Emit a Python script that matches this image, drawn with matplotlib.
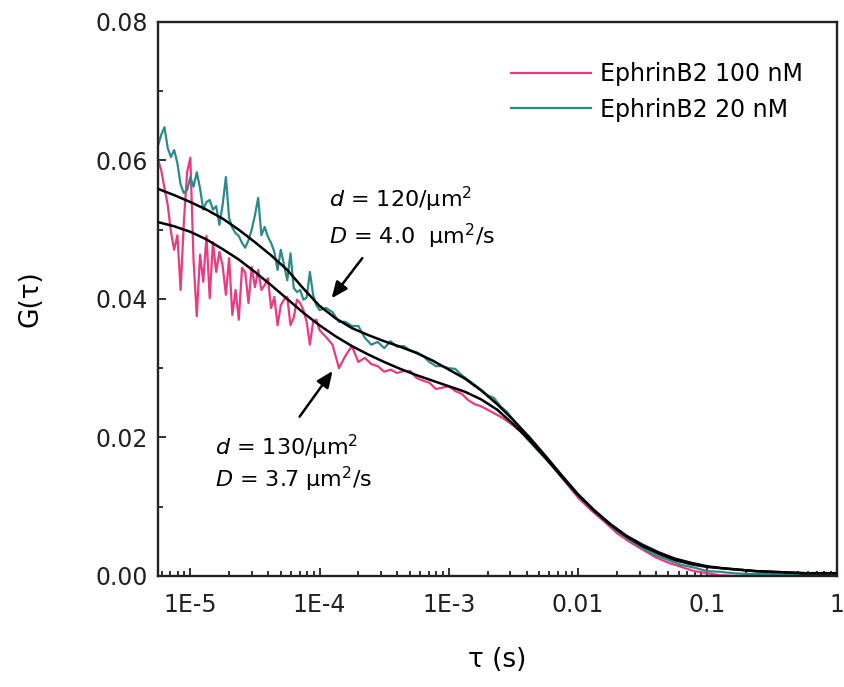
"""FCS autocorrelation curves for EphrinB2 at two concentrations, with fits."""

import numpy as np
import matplotlib
matplotlib.use("Agg")
import matplotlib.pyplot as plt
from matplotlib.ticker import (FixedLocator, FixedFormatter, LogLocator, NullFormatter,
                               MultipleLocator, FormatStrFormatter)

plt.rcParams["font.family"] = ["DejaVu Sans"]
plt.rcParams["mathtext.fontset"] = "dejavusans"

# ── Data (lag times given as log10 of tau in s) ──────────────────────────────
LOG_TAU = [
    -5.25, -5.225, -5.2, -5.175, -5.15, -5.125, -5.1, -5.075, -5.05, -5.025,
    -5.0, -4.975, -4.95, -4.925, -4.9, -4.875, -4.85, -4.825, -4.8, -4.775,
    -4.75, -4.725, -4.7, -4.675, -4.65, -4.625, -4.6, -4.575, -4.55, -4.525,
    -4.5, -4.475, -4.45, -4.425, -4.4, -4.375, -4.35, -4.325, -4.3, -4.275,
    -4.25, -4.225, -4.2, -4.175, -4.15, -4.125, -4.1, -4.075, -4.05, -4.025,
    -4.0,
    -3.95, -3.9, -3.85, -3.8, -3.75, -3.7, -3.65, -3.6, -3.55, -3.5,
    -3.45, -3.4, -3.35, -3.3, -3.25, -3.2, -3.15, -3.1, -3.05, -3.0,
    -2.95, -2.9, -2.85, -2.8, -2.75, -2.7, -2.65, -2.6, -2.55, -2.5,
    -2.4, -2.3, -2.2, -2.1, -2.0, -1.9, -1.8, -1.7, -1.6, -1.5,
    -1.4, -1.3, -1.2, -1.1, -1.0, -0.9, -0.8, -0.7, -0.6, -0.5,
    -0.4, -0.3, -0.2, -0.1, 0.0,
]

G_20NM = [
    0.0622, 0.0637, 0.0648, 0.0618, 0.0605, 0.0615, 0.0596, 0.0565, 0.0553, 0.0557,
    0.0576, 0.0562, 0.0583, 0.0560, 0.0529, 0.0540, 0.0543, 0.0529, 0.0534, 0.0507,
    0.0536, 0.0576, 0.0517, 0.0503, 0.0495, 0.0491, 0.0481, 0.0474, 0.0485, 0.0500,
    0.0521, 0.0546, 0.0492, 0.0504, 0.0490, 0.0481, 0.0468, 0.0442, 0.0471, 0.0449,
    0.0427, 0.0466, 0.0416, 0.0410, 0.0413, 0.0399, 0.0402, 0.0439, 0.0406, 0.0391,
    0.0384,
    0.0387, 0.0381, 0.0367, 0.0367, 0.0361, 0.0361, 0.0344, 0.0334, 0.0338, 0.0329,
    0.0339, 0.0331, 0.0332, 0.0326, 0.0323, 0.0318, 0.0309, 0.0303, 0.0303, 0.0300,
    0.0299, 0.0290, 0.0283, 0.0276, 0.0269, 0.0261, 0.0257, 0.0245, 0.0237, 0.0225,
    0.0199, 0.0179, 0.0159, 0.0137, 0.0116, 0.0098, 0.0081, 0.0065, 0.0052, 0.0040,
    0.0030, 0.0023, 0.0016, 0.0012, 0.0007, 0.0006, 0.0004, 0.0003, 0.0003, 0.0003,
    0.0001, 0.0003, 0.0001, 0.0003, 0.0001,
]

G_100NM = [
    0.0601, 0.0586, 0.0560, 0.0536, 0.0497, 0.0471, 0.0492, 0.0413, 0.0511, 0.0583,
    0.0604, 0.0456, 0.0375, 0.0464, 0.0425, 0.0491, 0.0401, 0.0482, 0.0439, 0.0468,
    0.0448, 0.0406, 0.0459, 0.0377, 0.0413, 0.0370, 0.0445, 0.0438, 0.0394, 0.0446,
    0.0417, 0.0442, 0.0413, 0.0420, 0.0430, 0.0387, 0.0403, 0.0362, 0.0391, 0.0399,
    0.0403, 0.0362, 0.0373, 0.0399, 0.0394, 0.0384, 0.0367, 0.0334, 0.0367, 0.0370,
    0.0355,
    0.0345, 0.0334, 0.0300, 0.0318, 0.0332, 0.0309, 0.0315, 0.0306, 0.0303, 0.0295,
    0.0298, 0.0293, 0.0296, 0.0296, 0.0286, 0.0282, 0.0279, 0.0270, 0.0272, 0.0274,
    0.0267, 0.0263, 0.0254, 0.0248, 0.0245, 0.0240, 0.0235, 0.0230, 0.0224, 0.0217,
    0.0202, 0.0182, 0.0159, 0.0136, 0.0113, 0.0095, 0.0079, 0.0062, 0.0049, 0.0038,
    0.0027, 0.0019, 0.0013, 0.0007, 0.0004, 0.0001, 0.0000, 0.0000, 0.0001, 0.0001,
    0.0000, 0.0001, 0.0000, 0.0001, 0.0000,
]

# fitted curves
LOG_TAU_FIT = [
    -5.25, -5.125, -5.0, -4.875, -4.75, -4.625, -4.5, -4.375, -4.25, -4.125,
    -4.0, -3.875, -3.75, -3.625, -3.5, -3.375, -3.25, -3.125, -3.0, -2.875,
    -2.75, -2.625, -2.5, -2.375, -2.25, -2.125, -2.0, -1.875, -1.75, -1.625,
    -1.5, -1.375, -1.25, -1.125, -1.0, -0.875, -0.75, -0.625, -0.5, -0.375,
    -0.25, -0.125, 0.0,
]
FIT_20NM = [
    0.0559, 0.0550, 0.0540, 0.0529, 0.0516, 0.0500, 0.0482, 0.0463, 0.0442, 0.0415,
    0.0390, 0.0372, 0.0358, 0.0348, 0.0339, 0.0331, 0.0322, 0.0311, 0.0298, 0.0285,
    0.0268, 0.0248, 0.0225, 0.0200, 0.0173, 0.0145, 0.0118, 0.0095, 0.0075, 0.0058,
    0.0045, 0.0034, 0.0025, 0.0019, 0.0014, 0.0011, 0.0009, 0.0007, 0.0006, 0.0005,
    0.0004, 0.0004, 0.0004,
]
FIT_100NM = [
    0.0511, 0.0505, 0.0497, 0.0486, 0.0472, 0.0457, 0.0439, 0.0420, 0.0400, 0.0380,
    0.0362, 0.0346, 0.0332, 0.0320, 0.0309, 0.0299, 0.0290, 0.0282, 0.0274, 0.0266,
    0.0255, 0.0240, 0.0219, 0.0196, 0.0170, 0.0143, 0.0117, 0.0094, 0.0074, 0.0057,
    0.0043, 0.0032, 0.0023, 0.0017, 0.0013, 0.0011, 0.0009, 0.0007, 0.0006, 0.0005,
    0.0004, 0.0004, 0.0004,
]

X_TICKS = [1e-5, 1e-4, 1e-3, 1e-2, 1e-1, 1]
X_TICK_LABELS = ["1E-5", "1E-4", "1E-3", "0.01", "0.1", "1"]

PINK = "#EA3A82"
TEAL = "#2B8A8A"

# ── Plot ─────────────────────────────────────────────────────────────────────
fig = plt.figure(figsize=(8.45, 6.87), dpi=100)
ax = fig.add_axes([0.187, 0.1616, 0.803, 0.8064])

tau = 10 ** np.array(LOG_TAU)
tau_fit = 10 ** np.array(LOG_TAU_FIT)

ax.plot(tau, G_100NM, color=PINK, lw=1.6, label="EphrinB2 100 nM", zorder=2)
ax.plot(tau, G_20NM, color=TEAL, lw=1.6, label="EphrinB2 20 nM", zorder=2)
ax.plot(tau_fit, FIT_20NM, color="black", lw=1.8, zorder=3)
ax.plot(tau_fit, FIT_100NM, color="black", lw=1.8, zorder=3)

ax.set_xscale("log")
ax.set_xlim(10 ** -5.25, 1)
ax.set_ylim(0, 0.08)

ax.xaxis.set_major_locator(FixedLocator(X_TICKS))
ax.xaxis.set_major_formatter(FixedFormatter(X_TICK_LABELS))
ax.xaxis.set_minor_locator(LogLocator(base=10, subs=np.arange(2, 10), numticks=20))
ax.xaxis.set_minor_formatter(NullFormatter())
ax.yaxis.set_major_locator(MultipleLocator(0.02))
ax.yaxis.set_minor_locator(MultipleLocator(0.01))
ax.yaxis.set_major_formatter(FormatStrFormatter("%.2f"))

ax.tick_params(which="both", direction="in", top=False, right=False,
               labelsize=17, labelcolor="#222222", color="#222222", width=1.3)
ax.tick_params(which="major", length=6)
ax.tick_params(which="minor", length=3.5)
ax.tick_params(axis="x", which="major", pad=12)
ax.tick_params(axis="y", which="major", pad=7)
for sp in ax.spines.values():
    sp.set_linewidth(1.7)
    sp.set_color("#222222")

ax.set_xlabel("τ (s)", fontsize=19, labelpad=22)
ax.set_ylabel("G(τ)", fontsize=19, labelpad=38)

# ── Annotations ──────────────────────────────────────────────────────────────
ax.text(1.19e-4, 0.0544, r"$d$ = 120/μm$^2$", fontsize=16, va="center")
ax.text(1.19e-4, 0.0490, r"$D$ = 4.0  μm$^2$/s", fontsize=16, va="center")
ax.text(1.56e-5, 0.0186, r"$d$ = 130/μm$^2$", fontsize=16, va="center")
ax.text(1.56e-5, 0.0140, r"$D$ = 3.7 μm$^2$/s", fontsize=16, va="center")

arrow = dict(arrowstyle="-|>,head_length=0.7,head_width=0.3", color="black",
             lw=1.8, mutation_scale=14, shrinkA=0, shrinkB=0)
ax.annotate("", xy=(1.24e-4, 0.0401), xytext=(2.14e-4, 0.0459), arrowprops=arrow)
ax.annotate("", xy=(1.26e-4, 0.0296), xytext=(7.0e-5, 0.0230), arrowprops=arrow)

ax.legend(loc="upper right", frameon=False, fontsize=17, handlelength=3.4,
          handletextpad=0.4, labelspacing=0.5, borderaxespad=0,
          bbox_to_anchor=(0.965, 0.945))

fig.savefig("out.png", dpi=100)
